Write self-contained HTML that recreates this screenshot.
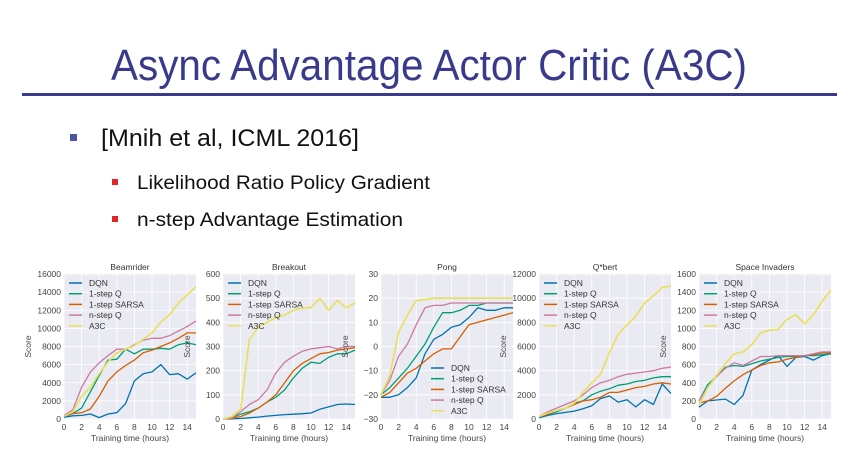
<!DOCTYPE html>
<html><head><meta charset="utf-8"><style>
html,body{margin:0;padding:0;background:#fff;}
svg{display:block;}
</style></head><body>
<svg id="s" width="856" height="472" xmlns="http://www.w3.org/2000/svg" font-family="Liberation Sans, sans-serif">
<text x="429" y="80" text-anchor="middle" font-size="44" fill="#393a8c" textLength="636" lengthAdjust="spacingAndGlyphs">Async Advantage Actor Critic (A3C)</text>
<rect x="22" y="93" width="815" height="3" fill="#393a8c"/>
<rect x="70" y="134" width="7" height="7" fill="#4a55a5"/>
<text x="101" y="146" font-size="24" fill="#111" textLength="258" lengthAdjust="spacingAndGlyphs">[Mnih et al, ICML 2016]</text>
<rect x="112" y="179" width="6" height="6" fill="#e0262b"/>
<text x="137" y="189" font-size="19" fill="#111" textLength="293" lengthAdjust="spacingAndGlyphs">Likelihood Ratio Policy Gradient</text>
<rect x="112" y="216" width="6" height="6" fill="#e0262b"/>
<text x="137" y="226" font-size="19" fill="#111" textLength="266" lengthAdjust="spacingAndGlyphs">n-step Advantage Estimation</text>
<g id="charts"></g>
</svg>
<script>
const hours = [0,1,2,3,4,5,6,7,8,9,10,11,12,13,14,15];
const seriesNames = ["DQN","1-step Q","1-step SARSA","n-step Q","A3C"];
const beamDQN = [200,350,400,550,150,550,700,1700,4200,5000,5200,6000,4900,5000,4400,5100];
const beamQ = [300,600,1200,3000,4800,6500,6600,7700,7200,7700,7700,7800,7700,8200,8400,8200];
const beamSarsa = [400,600,700,1100,2500,4200,5200,5900,6500,7300,7600,8000,8400,8900,9500,9500];
const beamNQ = [400,1000,3500,5200,6200,7000,7700,7700,8200,8700,8900,8900,9200,9700,10200,10800];
const beamA3C = [300,800,2500,3500,5000,6300,7300,7700,8100,8800,9500,10700,11500,12800,13700,14600];
const brkDQN = [0,1,2,5,8,12,15,18,20,22,25,40,50,60,62,60];
const brkQ = [0,5,20,30,45,70,90,120,170,210,235,230,255,270,270,285];
const brkSarsa = [0,2,10,25,45,70,100,150,200,230,250,270,275,285,290,295];
const brkNQ = [0,5,30,60,80,120,190,235,260,280,290,295,300,290,300,300];
const brkA3C = [0,10,40,330,380,400,420,430,450,460,460,500,450,490,460,480];
const pongDQN = [-21,-21,-20,-17,-13,-3,3,5,8,9,12,16,15,15,16,16];
const pongQ = [-20,-17,-13,-9,-4,1,8,14,14,15,17,17,18,18,18,18];
const pongSarsa = [-21,-19,-15,-11,-9,-6,-3,-1,-1,4,9,10,11,12,13,14];
const pongNQ = [-20,-14,-4,1,9,16,17,17,18,18,18,18,18,18,18,18];
const pongA3C = [-20,-12,6,13,19,19.5,20,20,20,20,20,20,20,20,20,20];
const qbDQN = [100,300,450,550,650,850,1100,1700,1900,1400,1600,1000,1600,1200,2900,2100];
const qbQ = [200,400,600,900,1300,1500,2000,2300,2500,2800,2900,3100,3200,3400,3500,3500];
const qbSarsa = [200,400,700,900,1200,1500,1600,1800,2200,2200,2400,2600,2700,2900,3000,2900];
const qbNQ = [200,600,900,1200,1500,2000,2600,3000,3200,3500,3700,3800,3900,4000,4200,4300];
const qbA3C = [200,500,700,900,1300,2200,3000,3700,5500,7000,7800,8500,9600,10200,10900,11000];
const siDQN = [130,200,210,220,160,260,540,600,650,700,580,680,690,650,700,720];
const siQ = [200,380,470,570,590,580,610,640,660,680,690,690,700,700,710,720];
const siSarsa = [180,200,250,340,420,490,540,590,620,630,660,680,700,710,730,730];
const siNQ = [200,350,470,560,620,590,640,690,690,700,700,700,700,720,740,740];
const siA3C = [150,350,480,610,720,740,820,950,980,990,1100,1150,1050,1150,1300,1420];
const xTicks = [0,2,4,6,8,10,12,14];
const beamTicks = [0,2000,4000,6000,8000,10000,12000,14000,16000];
const brkTicks = [0,100,200,300,400,500,600];
const pongTicks = [-30,-20,-10,0,10,20,30];
const qbTicks = [0,2000,4000,6000,8000,10000,12000];
const siTicks = [0,200,400,600,800,1000,1200,1400,1600];

const colors = ["#0072b2","#009e73","#d55e00","#cc79a7","#e8e05a"];
const NS = "http://www.w3.org/2000/svg";
const root = document.getElementById("charts");
function mk(tag, attrs, parent){ const e=document.createElementNS(NS,tag); for(const k in attrs) e.setAttribute(k,attrs[k]); (parent||root).appendChild(e); return e; }

const charts = [
 {title:"Beamrider", key:"beamrider", x0:64, data:[beamDQN,beamQ,beamSarsa,beamNQ,beamA3C], ticks:beamTicks, legend:"tl"},
 {title:"Breakout", key:"breakout", x0:223, data:[brkDQN,brkQ,brkSarsa,brkNQ,brkA3C], ticks:brkTicks, legend:"tl"},
 {title:"Pong", key:"pong", x0:381, data:[pongDQN,pongQ,pongSarsa,pongNQ,pongA3C], ticks:pongTicks, legend:"br"},
 {title:"Q*bert", key:"qbert", x0:539, data:[qbDQN,qbQ,qbSarsa,qbNQ,qbA3C], ticks:qbTicks, legend:"tl"},
 {title:"Space Invaders", key:"space-invaders", x0:699, data:[siDQN,siQ,siSarsa,siNQ,siA3C], ticks:siTicks, legend:"tl"}
];
const PW=132, pTop=274, pBot=419;
charts.forEach(c=>{
  const g = mk("g",{});
  
  
  const ymin=c.ticks[0], ymax=c.ticks[c.ticks.length-1];
  const sx = v => c.x0 + v/15*PW;
  const sy = v => pBot - (v-ymin)/(ymax-ymin)*(pBot-pTop);
  const bg = mk("rect",{x:c.x0,y:pTop,width:PW,height:pBot-pTop,fill:"#eaeaf2"},g);
  
  
  xTicks.forEach(t=>{
    mk("line",{x1:sx(t),x2:sx(t),y1:pTop,y2:pBot,stroke:"#fff","stroke-width":0.8},g);
    const tl = mk("text",{x:sx(t),y:pBot+11,"font-size":8.5,fill:"#444","text-anchor":"middle"},g);
    tl.textContent=t;
    
    
  });
  c.ticks.forEach(t=>{
    mk("line",{x1:c.x0,x2:c.x0+PW,y1:sy(t),y2:sy(t),stroke:"#fff","stroke-width":0.8},g);
    const tl = mk("text",{x:c.x0-3,y:sy(t)+3,"font-size":8.5,fill:"#444","text-anchor":"end"},g);
    tl.textContent = t<0 ? "\u2212"+(-t) : t;
    
    
  });
  const title = mk("text",{x:c.x0+PW/2,y:pTop-4,"font-size":8.5,fill:"#333","text-anchor":"middle"},g);
  title.textContent=c.title;
  
  
  const xl = mk("text",{x:c.x0+PW/2,y:pBot+22,"font-size":8.5,fill:"#444","text-anchor":"middle"},g);
  xl.textContent="Training time (hours)";
  
  
  const yx = c.x0-33, yy=(pTop+pBot)/2;
  const yl = mk("text",{x:yx,y:yy,"font-size":8.5,fill:"#444","text-anchor":"middle",transform:`rotate(-90 ${yx} ${yy})`},g);
  yl.textContent="Score";
  
  
  c.data.forEach((arr,i)=>{
    const pts = arr.map((v,j)=>sx(hours[j]).toFixed(1)+","+sy(v).toFixed(1)).join(" ");
    const l = mk("polyline",{points:pts,fill:"none",stroke:colors[i],"stroke-width":i==4?1.6:1.3,"stroke-linejoin":"round"},g);
    
    
  });
  let lx, ly;
  if(c.legend==="tl"){ lx=c.x0+5; ly=pTop+9; } else { lx=c.x0+50; ly=pTop+94; }
  seriesNames.forEach((n,i)=>{
    const y = ly + i*10.7;
    mk("line",{x1:lx,x2:lx+13,y1:y,y2:y,stroke:colors[i],"stroke-width":1.5},g);
    const t = mk("text",{x:lx+20,y:y+3,"font-size":8.5,fill:"#333"},g);
    t.textContent=n;
    
    
  });
});
</script>
</body></html>
